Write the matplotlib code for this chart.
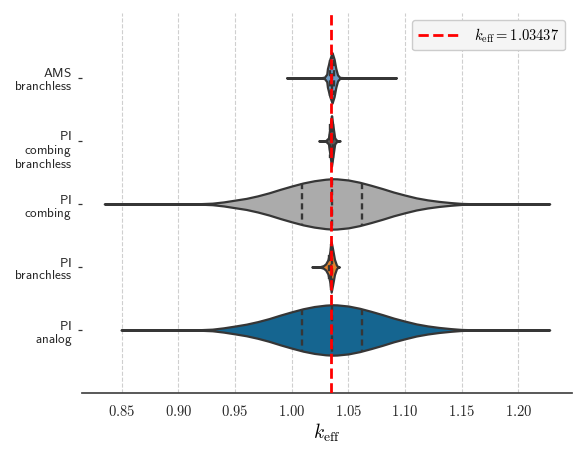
import colorsys
import numpy as np
import matplotlib
matplotlib.use("Agg")
import matplotlib.pyplot as plt
import matplotlib.transforms as mtransforms
from matplotlib.colors import to_rgb

plt.rcParams['mathtext.fontset'] = 'cm'
plt.rcParams['font.family'] = ['DejaVu Sans']

# ---------------- data ----------------
categories = ["AMS\nbranchless", "PI\ncombing\nbranchless", "PI\ncombing",
              "PI\nbranchless", "PI\nanalog"]
base_colors = ["#5F9ED1", "#595959", "#ABABAB", "#FF800E", "#006BA4"]
k_ref = 1.03437
x_ticks = [0.85, 0.90, 0.95, 1.00, 1.05, 1.10, 1.15, 1.20]

# relative violin half-widths (1 = widest) at given k_eff values
ams_x = [0.9957, 1.025, 1.029, 1.031, 1.0316, 1.0337, 1.0357, 1.0375, 1.0390,
         1.0405, 1.0425, 1.05, 1.0923]
ams_d = [0.0, 0.0, 0.03, 0.15, 0.37, 0.74, 1.0, 0.74, 0.37, 0.12, 0.02, 0.0, 0.0]

combbr_x = [1.0239, 1.030, 1.0325, 1.0338, 1.0352, 1.0366, 1.0380, 1.040, 1.0428]
combbr_d = [0.0, 0.01, 0.12, 0.55, 1.0, 0.55, 0.12, 0.01, 0.0]

comb_x = [0.8347, 0.90, 0.92, 0.93, 0.94, 0.95, 0.96, 0.97, 0.98, 0.99, 1.00,
          1.01, 1.02, 1.03, 1.036, 1.04, 1.05, 1.06, 1.07, 1.08, 1.09, 1.10,
          1.11, 1.12, 1.13, 1.14, 1.15, 1.16, 1.18, 1.2277]
comb_d = [0.0, 0.002, 0.012, 0.03, 0.08, 0.15, 0.22, 0.32, 0.44, 0.58, 0.71,
          0.83, 0.92, 0.98, 1.0, 0.995, 0.95, 0.86, 0.74, 0.61, 0.47, 0.35,
          0.24, 0.16, 0.10, 0.055, 0.02, 0.008, 0.001, 0.0]

br_x = [1.0178, 1.025, 1.028, 1.030, 1.032, 1.0335, 1.0349, 1.0362, 1.0378,
        1.0395, 1.0408, 1.0422]
br_d = [0.0, 0.01, 0.05, 0.12, 0.28, 0.55, 1.0, 0.70, 0.30, 0.08, 0.01, 0.0]

analog_x = [0.8495, 0.90, 0.92, 0.93, 0.94, 0.95, 0.96, 0.97, 0.98, 0.99, 1.00,
            1.01, 1.02, 1.03, 1.036, 1.04, 1.05, 1.06, 1.07, 1.08, 1.09, 1.10,
            1.11, 1.12, 1.13, 1.14, 1.15, 1.16, 1.18, 1.2277]
analog_d = [0.0, 0.002, 0.013, 0.032, 0.085, 0.155, 0.23, 0.33, 0.45, 0.59, 0.72,
            0.84, 0.93, 0.985, 1.0, 0.995, 0.95, 0.86, 0.74, 0.61, 0.47, 0.35,
            0.24, 0.16, 0.10, 0.055, 0.02, 0.008, 0.001, 0.0]

# quartiles (Q1, median, Q3)
ams_q = [1.0335, 1.0356, 1.0377]
combbr_q = [1.0342, 1.0352, 1.0362]
comb_q = [1.0093, 1.0358, 1.0623]
br_q = [1.0330, 1.0346, 1.0360]
analog_q = [1.0093, 1.0358, 1.0623]

profiles_x = [ams_x, combbr_x, comb_x, br_x, analog_x]
profiles_d = [ams_d, combbr_d, comb_d, br_d, analog_d]
quartiles = [ams_q, combbr_q, comb_q, br_q, analog_q]


def desaturate(c, p=0.75):
    h, l, s = colorsys.rgb_to_hls(*to_rgb(c))
    return colorsys.hls_to_rgb(h, l, s * p)


# ---------------- figure ----------------
fig = plt.figure(figsize=(5.87, 4.54), dpi=100)
ax = fig.add_axes([0.1397, 0.1344, 0.8347, 0.8370])

outline = "#363636"
max_half = 0.4
for i in range(len(categories)):
    xs = np.asarray(profiles_x[i])
    ds = np.asarray(profiles_d[i]) * max_half
    ax.fill_between(xs, i - ds, i + ds, facecolor=desaturate(base_colors[i]),
                    edgecolor=outline, linewidth=1.6, zorder=2)
    for q in quartiles[i]:
        h = np.interp(q, xs, ds)
        ax.plot([q, q], [i - h, i + h], color=outline, lw=1.7,
                ls=(0, (2.6, 1.7)), zorder=3)

ax.axvline(k_ref, color="red", ls="--", lw=2, zorder=5,
           label=r"$k_{\rm eff} = %.5f$" % k_ref)

ax.set_ylim(5.0, -1.03)
ax.set_yticks(range(len(categories)))
ax.set_yticklabels(["\n".join(r"$\mathsf{%s}$" % w for w in c.split("\n"))
                    for c in categories], fontsize=9.5, color="#262626",
                   va="top", linespacing=0.95)
ax.set_xticks(x_ticks)
ax.set_xticklabels([r"$%.2f$" % v for v in x_ticks], fontsize=10.5, color="#262626")
ax.tick_params(axis="x", length=0, pad=8)
ax.tick_params(axis="y", length=3, width=0.9, color="#333333", pad=4)

ax.grid(axis="x", ls="--", color="#cfcfcf", lw=0.8)
ax.grid(axis="y", visible=False)
ax.set_axisbelow(True)
for s in ["top", "right", "left"]:
    ax.spines[s].set_visible(False)
ax.spines["bottom"].set_color("#444444")
ax.spines["bottom"].set_linewidth(1.25)

ax.set_xlabel(r"$k_{\rm eff}$", fontsize=14, labelpad=2)
ax.legend(loc="upper right", fontsize=10.5, handlelength=3, facecolor="#f5f5f5",
          edgecolor="#cccccc", framealpha=1, fancybox=True)

# first line of each category label sits on its tick
fig.canvas.draw()
shift = mtransforms.ScaledTranslation(0, 7.5 / 72, fig.dpi_scale_trans)
for lab in ax.get_yticklabels():
    lab.set_va("top")
    lab.set_transform(lab.get_transform() + shift)

fig.savefig("out.png", dpi=100)
